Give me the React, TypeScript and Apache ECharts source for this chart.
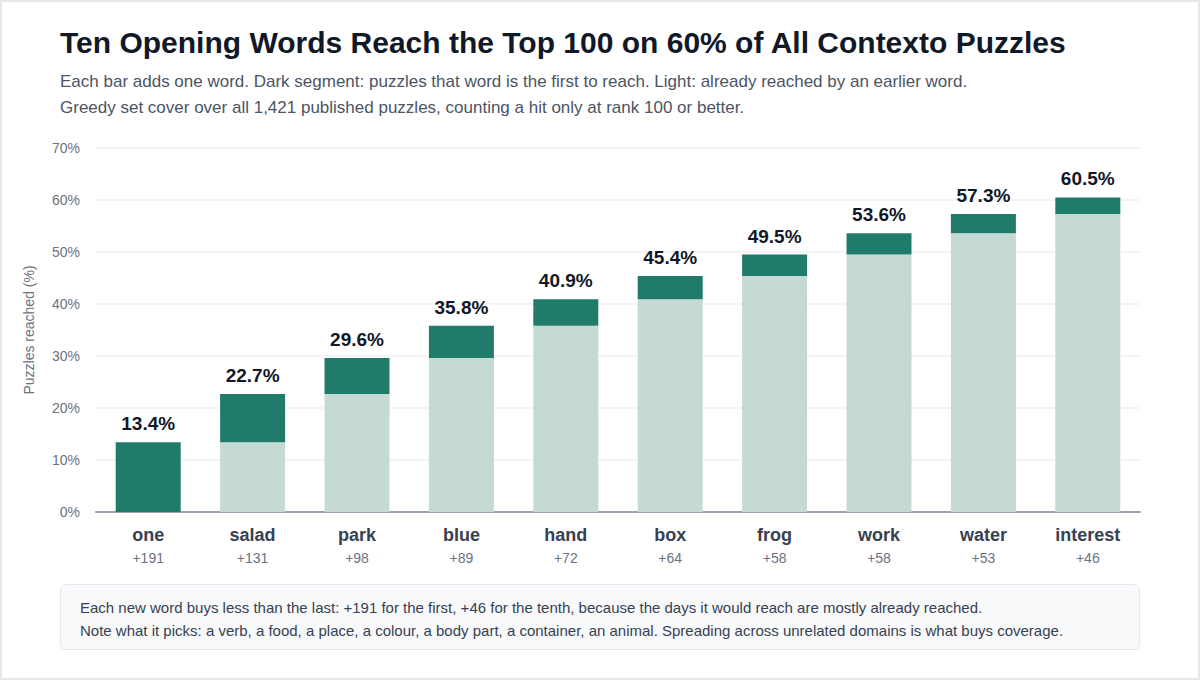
import React, { useEffect, useRef } from 'react';
import * as echarts from 'echarts';

const words = ['one', 'salad', 'park', 'blue', 'hand', 'box', 'frog', 'work', 'water', 'interest'];
// puzzles newly reached by each word
const gains = [191, 131, 98, 89, 72, 64, 58, 58, 53, 46];
// cumulative share reached after each word (%)
const reached = [13.4, 22.7, 29.6, 35.8, 40.9, 45.4, 49.5, 53.6, 57.3, 60.5];
const yTicks = [0, 10, 20, 30, 40, 50, 60, 70];

const FONT = '"Liberation Sans", Arial, Helvetica, sans-serif';
const DARK = '#207b6b';
const LIGHT = '#c6dad5';

const App: React.FC = () => {
	const chartRef = useRef<HTMLDivElement>(null);

	useEffect(() => {
		if (!chartRef.current) return;
		const chart = echarts.init(chartRef.current, undefined, { renderer: 'svg' });

		// Previous total = light part, increment = dark part
		const already = reached.map((v, i) => (i === 0 ? 0 : reached[i - 1]));
		const fresh = reached.map((v, i) => +(v - already[i]).toFixed(1));

		const option: echarts.EChartsOption = {
			animation: false,
			textStyle: { fontFamily: FONT },
			grid: {
				left: 96,
				right: 60,
				top: 148,
				bottom: 168
			},
			xAxis: {
				type: 'category',
				data: words,
				axisTick: { show: false },
				axisLine: { lineStyle: { color: '#9ca3af', width: 2 } },
				axisLabel: {
					margin: 12,
					interval: 0,
					formatter: (value: string, index: number) => `{w|${value}}\n{g|+${gains[index]}}`,
					rich: {
						w: { fontSize: 18, fontWeight: 'bold', color: '#374151', lineHeight: 22, fontFamily: FONT },
						g: { fontSize: 14, color: '#6b7280', lineHeight: 24, fontFamily: FONT }
					}
				}
			},
			yAxis: {
				type: 'value',
				min: yTicks[0],
				max: yTicks[yTicks.length - 1],
				interval: 10,
				name: 'Puzzles reached (%)',
				nameLocation: 'middle',
				nameGap: 60,
				nameTextStyle: { color: '#6b7280', fontSize: 14, fontFamily: FONT },
				axisLine: { show: false },
				axisTick: { show: false },
				axisLabel: {
					color: '#6b7280',
					fontSize: 14,
					margin: 16,
					formatter: '{value}%'
				},
				splitLine: { lineStyle: { color: '#f0f0f0', width: 1.5 } }
			},
			series: [
				{
					name: 'Already reached',
					type: 'bar',
					stack: 'total',
					barWidth: 65,
					data: already,
					itemStyle: { color: LIGHT }
				},
				{
					name: 'First to reach',
					type: 'bar',
					stack: 'total',
					barWidth: 65,
					data: fresh,
					itemStyle: { color: DARK },
					label: {
						show: true,
						position: 'top',
						distance: 9,
						formatter: (p: any) => `${reached[p.dataIndex].toFixed(1)}%`,
						color: '#111827',
						fontSize: 19,
						fontWeight: 'bold',
						fontFamily: FONT
					}
				}
			]
		};

		chart.setOption(option);
		return () => {
			chart.dispose();
		};
	}, []);

	return (
		<div
			style={{
				position: 'fixed',
				left: 0,
				top: 0,
				width: 1200,
				height: 680,
				boxSizing: 'border-box',
				border: '2px solid #e5e7eb',
				background: '#ffffff',
				fontFamily: FONT
			}}
		>
			<div ref={chartRef} style={{ position: 'absolute', left: -2, top: -2, width: 1200, height: 680 }} />
			<div
				style={{
					position: 'absolute',
					left: 58,
					top: 24,
					fontSize: 30,
					fontWeight: 'bold',
					color: '#111827',
					whiteSpace: 'nowrap'
				}}
			>
				Ten Opening Words Reach the Top 100 on 60% of All Contexto Puzzles
			</div>
			<div
				style={{
					position: 'absolute',
					left: 58,
					top: 67,
					fontSize: 17,
					lineHeight: '26px',
					color: '#4b5563',
					whiteSpace: 'nowrap'
				}}
			>
				Each bar adds one word. Dark segment: puzzles that word is the first to reach. Light: already reached by an earlier word.
				<br />
				Greedy set cover over all 1,421 published puzzles, counting a hit only at rank 100 or better.
			</div>
			<div
				style={{
					position: 'absolute',
					left: 58,
					top: 582,
					width: 1080,
					height: 66,
					boxSizing: 'border-box',
					border: '1px solid #e5e7eb',
					borderRadius: 6,
					background: '#f8f9fb',
					padding: '11px 19px',
					fontSize: 15,
					lineHeight: '23px',
					color: '#374151',
					whiteSpace: 'nowrap'
				}}
			>
				Each new word buys less than the last: +191 for the first, +46 for the tenth, because the days it would reach are mostly already reached.
				<br />
				Note what it picks: a verb, a food, a place, a colour, a body part, a container, an animal. Spreading across unrelated domains is what buys coverage.
			</div>
		</div>
	);
};

export default App;
